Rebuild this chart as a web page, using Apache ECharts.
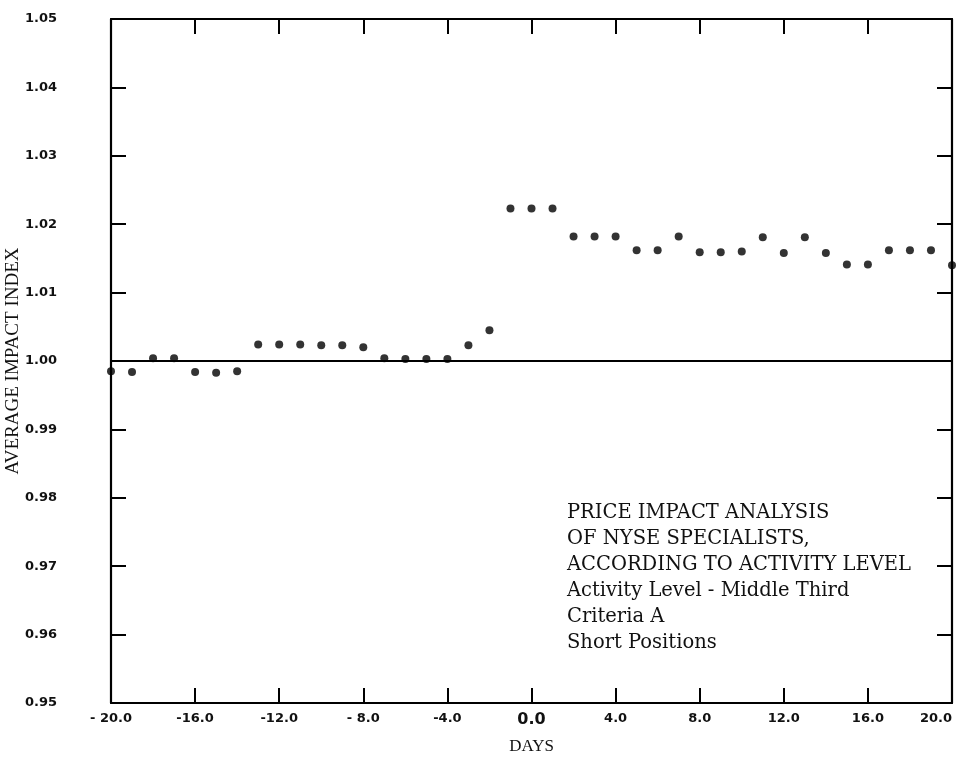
<!DOCTYPE html>
<html>
<head>
<meta charset="utf-8">
<script src="https://cdn.jsdelivr.net/npm/echarts@6/dist/echarts.min.js"></script>
<style>
  html, body { margin: 0; padding: 0; background: #fff; }
  #main { width: 963px; height: 761px; }
</style>
</head>
<body>
<div id="main"></div>
<script>
// 初始化实例
var chart = echarts.init(document.getElementById('main'));

// ---------- 数据 ----------
var days = [-20, -19, -18, -17, -16, -15, -14, -13, -12, -11, -10, -9, -8, -7, -6, -5, -4, -3, -2, -1,
            0, 1, 2, 3, 4, 5, 6, 7, 8, 9, 10, 11, 12, 13, 14, 15, 16, 17, 18, 19, 20];
var impactIndex = [0.9985, 0.9984, 1.0004, 1.0004, 0.9984, 0.9983, 0.9985, 1.0024, 1.0024, 1.0024,
                   1.0023, 1.0023, 1.0020, 1.0004, 1.0003, 1.0003, 1.0003, 1.0023, 1.0045, 1.0223,
                   1.0223, 1.0223, 1.0182, 1.0182, 1.0182, 1.0162, 1.0162, 1.0182, 1.0159, 1.0159,
                   1.0160, 1.0181, 1.0158, 1.0181, 1.0158, 1.0141, 1.0141, 1.0162, 1.0162, 1.0162,
                   1.0140];
var xTickValues = [-20, -16, -12, -8, -4, 0, 4, 8, 12, 16, 20];
var xTickLabels = ['- 20.0', '-16.0', '-12.0', '- 8.0', '-4.0', '0.0', '4.0', '8.0', '12.0', '16.0', '20.0'];
var noteLines = ['PRICE IMPACT ANALYSIS', 'OF NYSE SPECIALISTS,', 'ACCORDING TO ACTIVITY LEVEL',
                 'Activity Level - Middle Third', 'Criteria A', 'Short Positions'];

var points = days.map(function (d, i) { return [d, impactIndex[i]]; });

var frameLine = { show: true, onZero: false, lineStyle: { color: '#000', width: 2.2 } };
var innerTick = { show: true, inside: true, length: 15, lineStyle: { color: '#000', width: 2 } };
var tickFont = { color: '#111', fontFamily: 'DejaVu Sans', fontWeight: 'bold', fontSize: 13 };

option = {
    backgroundColor: '#fff',
    animation: false,
    grid: { left: 111, right: 11, top: 19, bottom: 58, containLabel: false, outerBoundsMode: 'none' },
    xAxis: [{
        type: 'value',
        min: -20, max: 20, interval: 4,
        position: 'bottom',
        axisLine: frameLine,
        axisTick: innerTick,
        splitLine: { show: false },
        axisLabel: Object.assign({
            margin: 9,
            hideOverlap: false,
            alignMaxLabel: 'right',
            formatter: function (v) {
                var k = xTickValues.indexOf(Math.round(v));
                if (k < 0) return '';
                return v === 0 ? '{big|' + xTickLabels[k] + '}' : xTickLabels[k];
            },
            rich: { big: { fontFamily: 'DejaVu Sans', fontSize: 16, color: '#111' } }
        }, tickFont),
        name: 'DAYS',
        nameLocation: 'middle',
        nameGap: 35,
        nameMoveOverlap: false,
        nameTextStyle: { color: '#111', fontFamily: 'Liberation Serif', fontSize: 17 }
    }, {
        type: 'value',
        min: -20, max: 20, interval: 4,
        position: 'top',
        axisLine: frameLine,
        axisTick: innerTick,
        axisLabel: { show: false },
        splitLine: { show: false }
    }],
    yAxis: [{
        type: 'value',
        min: 0.95, max: 1.05, interval: 0.01,
        position: 'left',
        axisLine: frameLine,
        axisTick: innerTick,
        splitLine: { show: false },
        axisLabel: Object.assign({
            margin: 54,
            formatter: function (v) { return v.toFixed(2); }
        }, tickFont),
        name: 'AVERAGE IMPACT INDEX',
        nameLocation: 'middle',
        nameGap: 88,
        nameMoveOverlap: false,
        nameTextStyle: { color: '#111', fontFamily: 'Liberation Serif', fontSize: 19 }
    }, {
        type: 'value',
        min: 0.95, max: 1.05, interval: 0.01,
        position: 'right',
        axisLine: frameLine,
        axisTick: innerTick,
        axisLabel: { show: false },
        splitLine: { show: false }
    }],
    graphic: [{
        type: 'text',
        left: 567,
        top: 500,
        style: {
            text: noteLines.join('\n'),
            fill: '#111',
            font: '19.5px "DejaVu Serif"',
            lineHeight: 26
        }
    }],
    series: [{
        type: 'scatter',
        data: points,
        symbol: 'circle',
        symbolSize: 8,
        itemStyle: { color: '#000' },
        markLine: {
            silent: true,
            symbol: 'none',
            label: { show: false },
            lineStyle: { color: '#000', width: 2.2, type: 'solid' },
            data: [{ yAxis: 1.0 }]
        }
    }]
};

chart.setOption(option);
</script>
</body>
</html>
